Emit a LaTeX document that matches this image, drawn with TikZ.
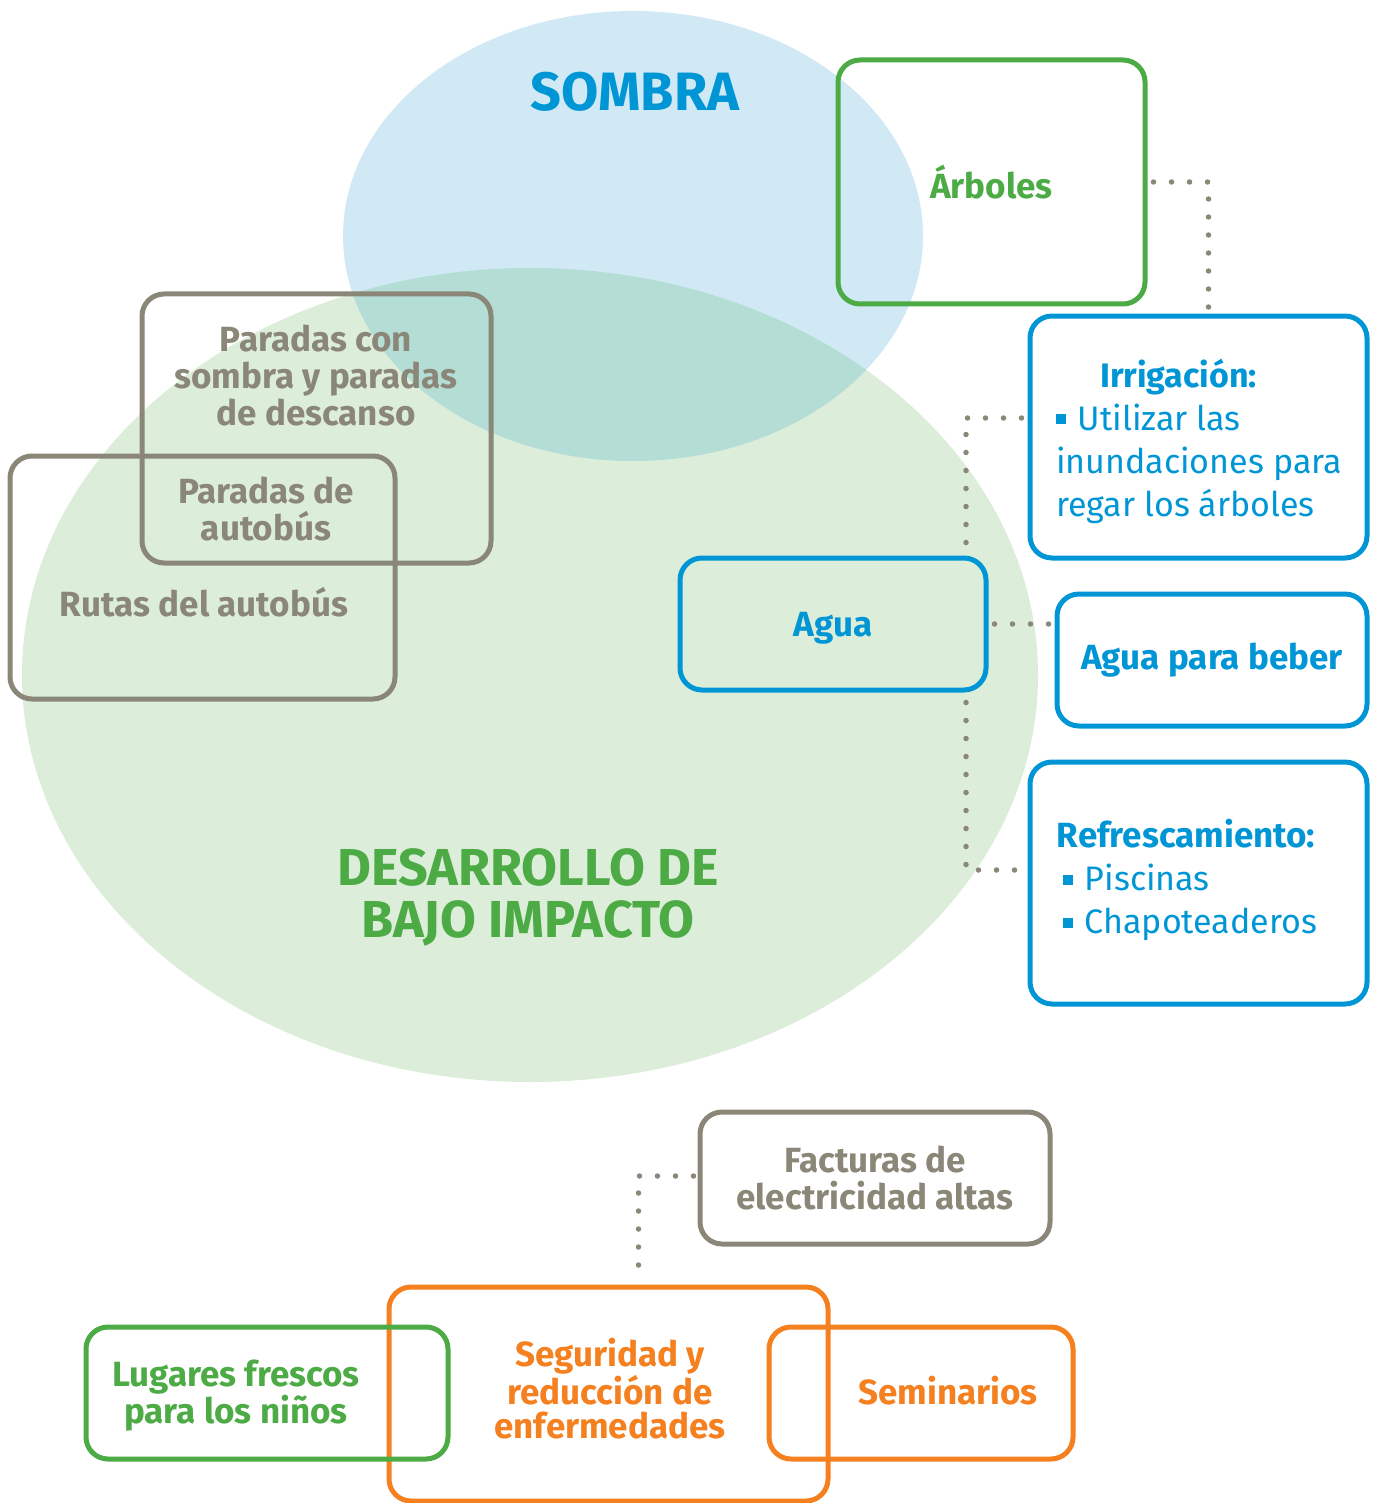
\documentclass[tikz,border=0pt]{standalone}
\usepackage{fontspec}
\setmainfont{Fira Sans}
\definecolor{cblue}{RGB}{0,150,214}
\definecolor{cgreen}{RGB}{77,171,69}
\definecolor{cgray}{RGB}{139,135,120}
\definecolor{corange}{RGB}{245,128,32}
\definecolor{lblue}{RGB}{208,233,245}
\definecolor{lgreen}{RGB}{220,237,218}
\definecolor{lteal}{RGB}{179,221,213}
\newcommand{\sqbullet}{\raisebox{0.17em}{\rule{10pt}{10pt}}\hspace{0.35em}}
\begin{document}
\begin{tikzpicture}[x=1pt,y=-1pt,
  box/.style={draw, line width=5pt, rounded corners=22pt, inner sep=0pt, align=center},
  dots/.style={draw=cgray, line width=5.5pt, line cap=round, dash pattern=on 0pt off 18pt},
  bf/.style={font=\fontsize{35}{37}\selectfont\bfseries},
  rg/.style={font=\fontsize{34}{43}\selectfont}
]
\useasboundingbox (0,0) rectangle (1377,1503);
% ellipses
\fill[lgreen] (530,675) ellipse [x radius=508, y radius=407];
\fill[lblue] (633,236) ellipse [x radius=290, y radius=225];
\begin{scope}
  \clip (530,675) ellipse [x radius=508, y radius=407];
  \fill[lteal] (633,236) ellipse [x radius=290, y radius=225];
\end{scope}
% titles
\node[text=cblue, font=\fontsize{54}{58}\selectfont\bfseries] (sombra) at (635,92) {SOMBRA};
\node[text=cgreen, font=\fontsize{52}{52}\selectfont\bfseries, align=center] (dbi) at (528,897) {DESARROLLO DE\\BAJO IMPACTO};
% boxes
\node[box, draw=cgreen, text=cgreen, bf, minimum width=307pt, minimum height=244pt] (arboles) at (991.5,182) {Árboles};
\node[box, draw=cblue, minimum width=337pt, minimum height=242pt] (irrig) at (1198.5,437) {};
\node[text=cblue, rg, align=left] (irrigtxt) at (1199,441)
  {\hspace*{44pt}\textbf{Irrigación:}\\\sqbullet Utilizar las\\inundaciones para\\regar los árboles};
\node[box, draw=cblue, minimum width=306pt, minimum height=132pt] (agua) at (833,624) {};
\node[text=cblue, bf] (aguatxt) at (833,628) {Agua};
\node[box, draw=cblue, text=cblue, bf, minimum width=310pt, minimum height=132pt] (beber) at (1212,660) {Agua para beber};
\node[box, draw=cblue, minimum width=337pt, minimum height=242pt] (refresc) at (1198.5,883) {};
\node[text=cblue, rg, align=left] (refresctxt) at (1187,880)
  {\textbf{\fontsize{35}{43}\selectfont Refrescamiento:}\\\hspace*{6pt}\sqbullet Piscinas\\\hspace*{6pt}\sqbullet Chapoteaderos};
\node[box, draw=cgray, minimum width=349pt, minimum height=269pt] (paradas) at (316.5,428.5) {};
\node[box, draw=cgray, minimum width=385pt, minimum height=243pt] (rutas) at (202.5,577.5) {};
\node[text=cgray, bf, align=center] (paradastxt) at (316,376) {Paradas con\\sombra y paradas\\de descanso};
\node[text=cgray, bf, align=center] (autobustxt) at (266,509) {Paradas de\\autobús};
\node[text=cgray, bf] (rutastxt) at (204,602) {Rutas del autobús};
\node[box, draw=cgray, text=cgray, bf, minimum width=350pt, minimum height=132pt] (facturas) at (875,1178) {Facturas de\\electricidad altas};
\node[box, draw=corange, minimum width=439pt, minimum height=214pt] (segur) at (608.5,1394) {};
\node[box, draw=cgreen, minimum width=362pt, minimum height=132pt] (lugares) at (267,1393) {};
\node[text=cgreen, font=\fontsize{35}{36}\selectfont\bfseries, align=center] (lugarestxt) at (236,1396) {Lugares frescos\\para los niños};
\node[box, draw=corange, minimum width=304pt, minimum height=132pt] (semin) at (921,1393) {};
\node[text=corange, bf] (semintxt) at (948,1391) {Seminarios};
\node[text=corange, font=\fontsize{35}{34}\selectfont\bfseries, align=center] (segurtxt) at (610,1389) {Seguridad y\\reducción de\\enfermedades};
% dotted connectors
\draw[dots] ([xshift=6pt]arboles.east) -| ([xshift=10pt]irrig.north);
\draw[dots] ([xshift=-6pt,yshift=19pt]irrig.west) -| ([xshift=133pt,yshift=10pt]agua.north);
\draw[dots] ([xshift=133pt,yshift=-10pt]agua.south) |- ([xshift=-6pt,yshift=13pt]refresc.west);
\draw[dots] ([xshift=6pt]agua.east) -- ([xshift=-4pt]agua.east -| beber.west);
\draw[dots] ([xshift=-4pt,yshift=2pt]facturas.west) -| ([xshift=30pt,yshift=8pt]segur.north);
\end{tikzpicture}
\end{document}
